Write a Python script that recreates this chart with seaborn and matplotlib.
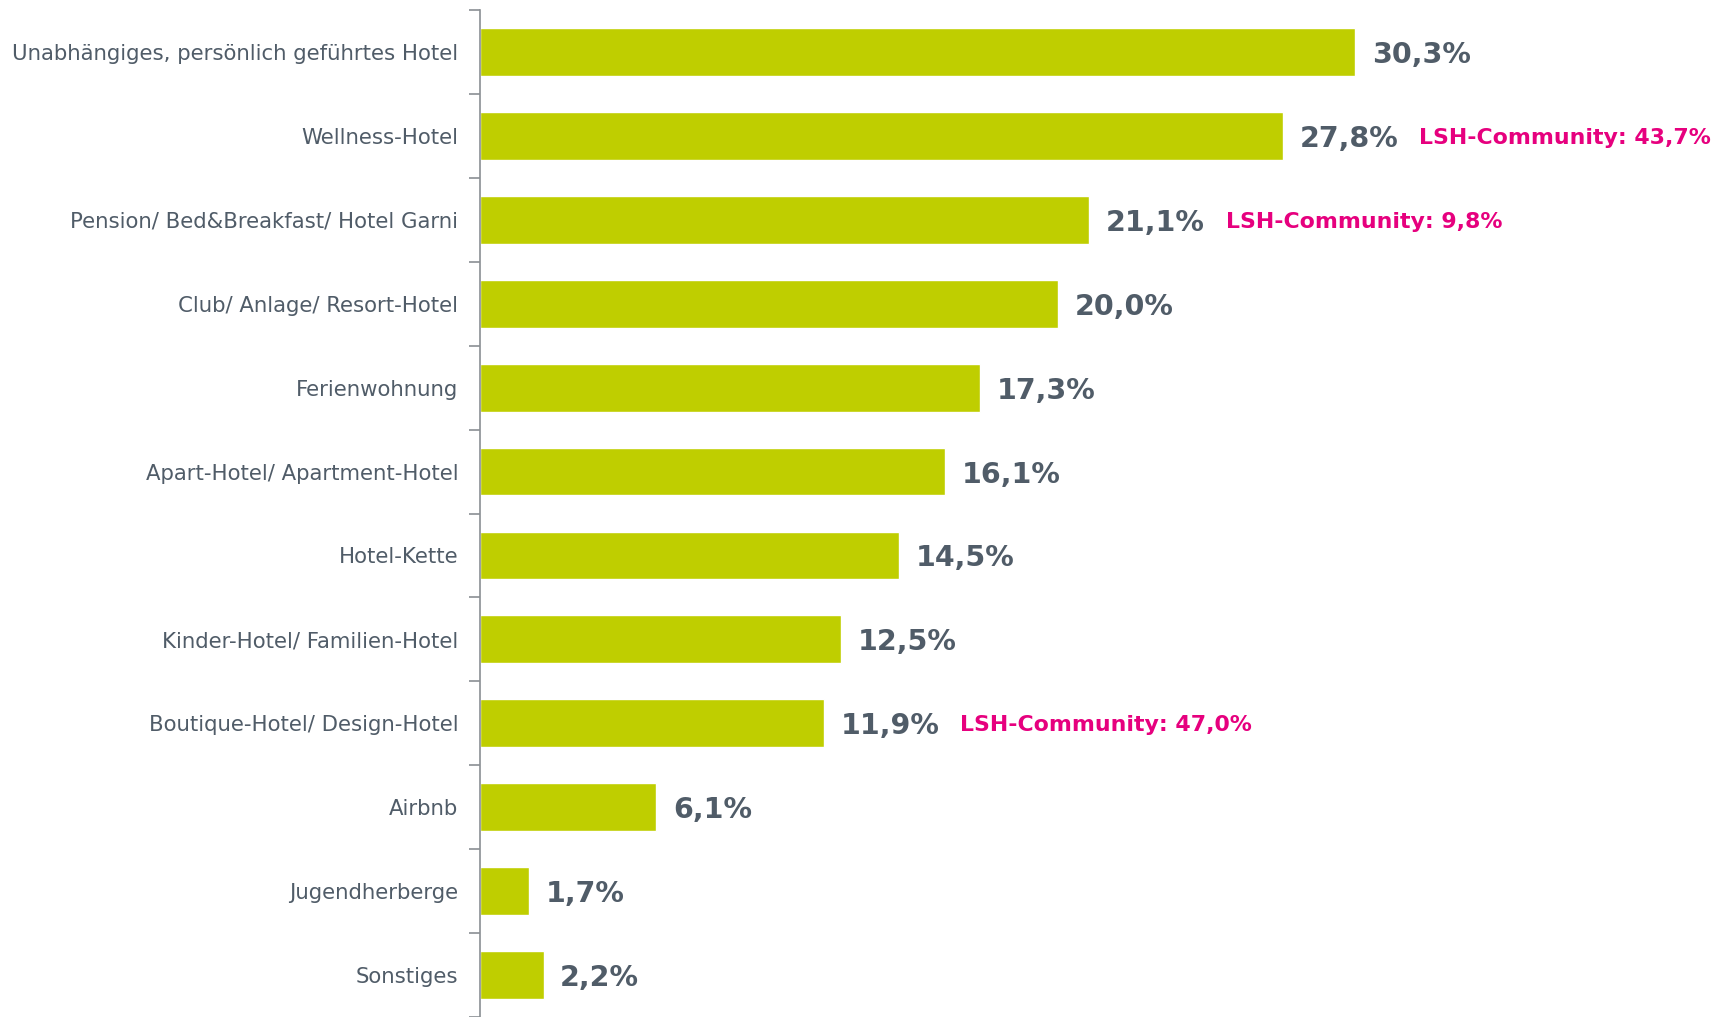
import matplotlib
matplotlib.use("Agg")
import matplotlib.pyplot as plt
import pandas as pd
import seaborn as sns

# data
categories = ['Unabhängiges, persönlich geführtes Hotel', 'Wellness-Hotel',
              'Pension/ Bed&Breakfast/ Hotel Garni', 'Club/ Anlage/ Resort-Hotel',
              'Ferienwohnung', 'Apart-Hotel/ Apartment-Hotel', 'Hotel-Kette',
              'Kinder-Hotel/ Familien-Hotel', 'Boutique-Hotel/ Design-Hotel',
              'Airbnb', 'Jugendherberge', 'Sonstiges']
values = [30.3, 27.8, 21.1, 20.0, 17.3, 16.1, 14.5, 12.5, 11.9, 6.1, 1.7, 2.2]
community = {'Wellness-Hotel': 43.7,
             'Pension/ Bed&Breakfast/ Hotel Garni': 9.8,
             'Boutique-Hotel/ Design-Hotel': 47.0}

df = pd.DataFrame({'Kategorie': categories, 'Anteil': values})

def de(v):
    return f"{v:.1f}".replace('.', ',') + '%'

sns.set_style('white')
plt.rcParams['font.family'] = ['DejaVu Sans']

gray = '#505c68'
pink = '#e6007e'
green = '#bfce00'

fig = plt.figure(figsize=(17.19, 10.17), dpi=100)
ax = fig.add_axes([480 / 1719, 0.0, 1 - 480 / 1719, 1 - 10 / 1017])

sns.barplot(data=df, x='Anteil', y='Kategorie', color=green, saturation=1,
            width=0.57, ax=ax)

ax.set_xlim(0, 42.9)
ax.set_ylim(11.5, -0.5)
ax.set_xlabel('')
ax.set_ylabel('')
ax.set_xticks([])
for s in ['top', 'right', 'bottom']:
    ax.spines[s].set_visible(False)
ax.spines['left'].set_color('#8a8f94')
ax.spines['left'].set_linewidth(1.2)

# ticks between categories, labels centered
ax.set_yticks([i + 0.5 for i in range(-1, len(categories))], minor=False)
ax.set_yticklabels([])
ax.tick_params(axis='y', which='major', length=8, color='#8a8f94', width=1.2, left=True)
ax.set_yticks(range(len(categories)), minor=True)
ax.set_yticklabels(categories, minor=True)
ax.tick_params(axis='y', which='minor', length=0, pad=15.5, labelsize=15.3, labelcolor=gray)

fig.canvas.draw()
renderer = fig.canvas.get_renderer()
for i, (cat, v) in enumerate(zip(categories, values)):
    t = ax.annotate(de(v), xy=(v, i), xytext=(12, 0), textcoords='offset points',
                    va='center_baseline', ha='left', fontsize=20.5, fontweight='bold', color=gray)
    if cat in community:
        bb = t.get_window_extent(renderer=renderer)
        x0, _ = ax.transData.inverted().transform((bb.x1, 0))
        ax.annotate('LSH-Community: ' + de(community[cat]), xy=(x0, i),
                    xytext=(15, 0), textcoords='offset points',
                    va='center_baseline', ha='left', fontsize=15.8, fontweight='bold', color=pink)

fig.savefig('out.png', dpi=100)
